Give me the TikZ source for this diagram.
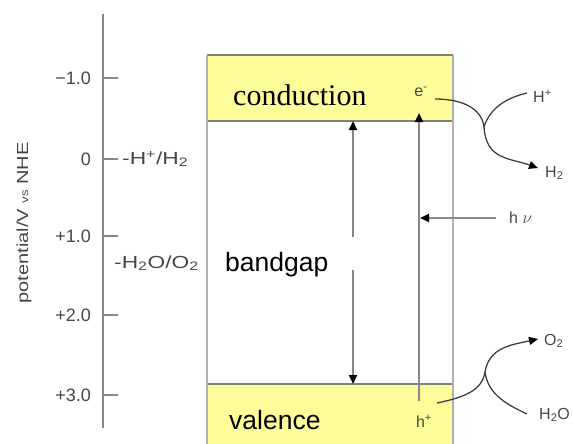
\documentclass[tikz,border=0pt]{standalone}
\usepackage{fontspec}
\setmainfont{Liberation Sans}
\newfontfamily\timesfont{Liberation Serif}
\usetikzlibrary{arrows.meta}

\definecolor{bandyellow}{RGB}{255,253,153}
\definecolor{axisgray}{RGB}{135,135,135}
\definecolor{labelgray}{RGB}{70,70,70}
\definecolor{wallgray}{RGB}{175,175,175}

\begin{document}
\begin{tikzpicture}[x=1pt,y=-1pt,
  axisline/.style={draw=axisgray,line width=2.4pt},
  tickline/.style={draw=axisgray,line width=1.8pt},
  ticklabel/.style={anchor=east,text=labelgray,inner sep=0pt,
    font=\fontsize{18}{18}\selectfont},
  levellabel/.style={anchor=west,text=labelgray,inner sep=0pt,
    font=\fontsize{17.5}{17.5}\selectfont},
  bandfill/.style={fill=bandyellow},
  bandedge/.style={draw=gray,line width=1.2pt},
  wall/.style={draw=wallgray,line width=1.8pt},
  transition/.style={draw=axisgray,line width=2.2pt,
    -{Triangle[length=9pt,width=8pt,color=black]}},
  flow/.style={draw=darkgray,line width=1.3pt},
  flowarrow/.style={flow,-{Triangle[length=9pt,width=8pt,color=black]}},
  species/.style={text=labelgray,inner sep=0pt,
    font=\fontsize{16}{16}\selectfont},
  bandname/.style={inner sep=0pt,anchor=base west},
]
\useasboundingbox (0,0) rectangle (573,444);

% ---- potential axis ----
\coordinate (axtop) at (103,14);
\coordinate (axbot) at (103,428);
\draw[axisline] (axtop) -- (axbot);
\foreach \name/\y/\txt in {m1/78/{−1.0}, z/159/{0}, p1/236/{+1.0}, p2/315/{+2.0}, p3/395/{+3.0}}{
  \coordinate (tick\name) at (103,\y);
  \coordinate (tickend\name) at (118,\y);
  \draw[tickline] (tick\name) -- (tickend\name);
  \node[ticklabel] (lab\name) at (91,\y) {\txt};
}
\node[levellabel] (hplus) at (122,159)
  {\scalebox{1.3}[1]{-H\textsuperscript{+}/H\textsubscript{2}}};
\node[levellabel] (wateroxy) at (114,263)
  {\scalebox{1.3}[1]{-H\textsubscript{2}O/O\textsubscript{2}}};
\node[text=labelgray,inner sep=0pt,rotate=90,font=\fontsize{16}{16}\selectfont]
  (axtitle) at (24,223) {\scalebox{1.25}[1]{potential/V {\fontsize{10.5}{10.5}\selectfont vs} NHE}};

% ---- semiconductor bands ----
\fill[bandfill] (207,55) rectangle (453,121);
\fill[bandfill] (207,384) rectangle (453,444);
\draw[bandedge] (207,55) -- (453,55);
\draw[bandedge] (207,121) -- (453,121);
\draw[bandedge] (207,384) -- (453,384);
\coordinate (wlt) at (207,55);
\coordinate (wlb) at (207,444);
\coordinate (wrt) at (453,55);
\coordinate (wrb) at (453,444);
\draw[wall] (wlt) -- (wlb);
\draw[wall] (wrt) -- (wrb);

\node[bandname,font=\timesfont\fontsize{30}{30}\selectfont] (cond) at (233,105) {conduction};
\node[bandname,font=\fontsize{26.5}{26.5}\selectfont] (gap) at (225,271) {bandgap};
\node[bandname,font=\fontsize{26.5}{26.5}\selectfont] (val) at (229,429) {valence};

% ---- bandgap double arrow (broken around the label) ----
\coordinate (gapup) at (353,237);
\coordinate (gaptop) at (353,121);
\coordinate (gapdown) at (353,270);
\coordinate (gapbot) at (353,384);
\draw[transition] (gapup) -- (gaptop);
\draw[transition] (gapdown) -- (gapbot);

% ---- photo-excitation ----
\node[species] (hole) at (424,421) {h\textsuperscript{+}};
\node[species] (elec) at (421,92) {e\textsuperscript{-}};
\coordinate (exfrom) at (419,401);
\coordinate (exto) at (419,113);
\draw[transition] (exfrom) -- (exto);

\node[species,anchor=west] (light) at (509,218) {h~$\nu$};
\coordinate (lightfrom) at (496,218);
\coordinate (lightto) at (420,218);
\draw[transition] (lightfrom) -- (lightto);

% ---- reduction: H+ -> H2 ----
\node[species,anchor=west] (hion) at (533,96) {H\textsuperscript{+}};
\node[species,anchor=west] (htwo) at (545,173) {H\textsubscript{2}};
\coordinate (ejoin) at (484,127);
\coordinate (estart) at (435,99);
\coordinate (hionend) at (527,93);
\coordinate (htwoend) at (538,168);
\draw[flow] (estart) .. controls (465,99) and (482,110) .. (ejoin);
\draw[flowarrow] (ejoin) .. controls (486,160) and (510,158) .. (htwoend);
\draw[flow] (ejoin) .. controls (490,108) and (506,98) .. (hionend);

% ---- oxidation: H2O -> O2 ----
\node[species,anchor=west] (otwo) at (544,341) {O\textsubscript{2}};
\node[species,anchor=west] (water) at (539,415) {H\textsubscript{2}O};
\coordinate (hjoin) at (485,372);
\coordinate (hstart) at (437,403);
\coordinate (otwoend) at (538,339);
\coordinate (waterend) at (527,414);
\draw[flow] (hstart) .. controls (466,397) and (482,390) .. (hjoin);
\draw[flowarrow] (hjoin) .. controls (489,348) and (510,345) .. (otwoend);
\draw[flow] (hjoin) .. controls (488,395) and (508,405) .. (waterend);
\end{tikzpicture}
\end{document}
